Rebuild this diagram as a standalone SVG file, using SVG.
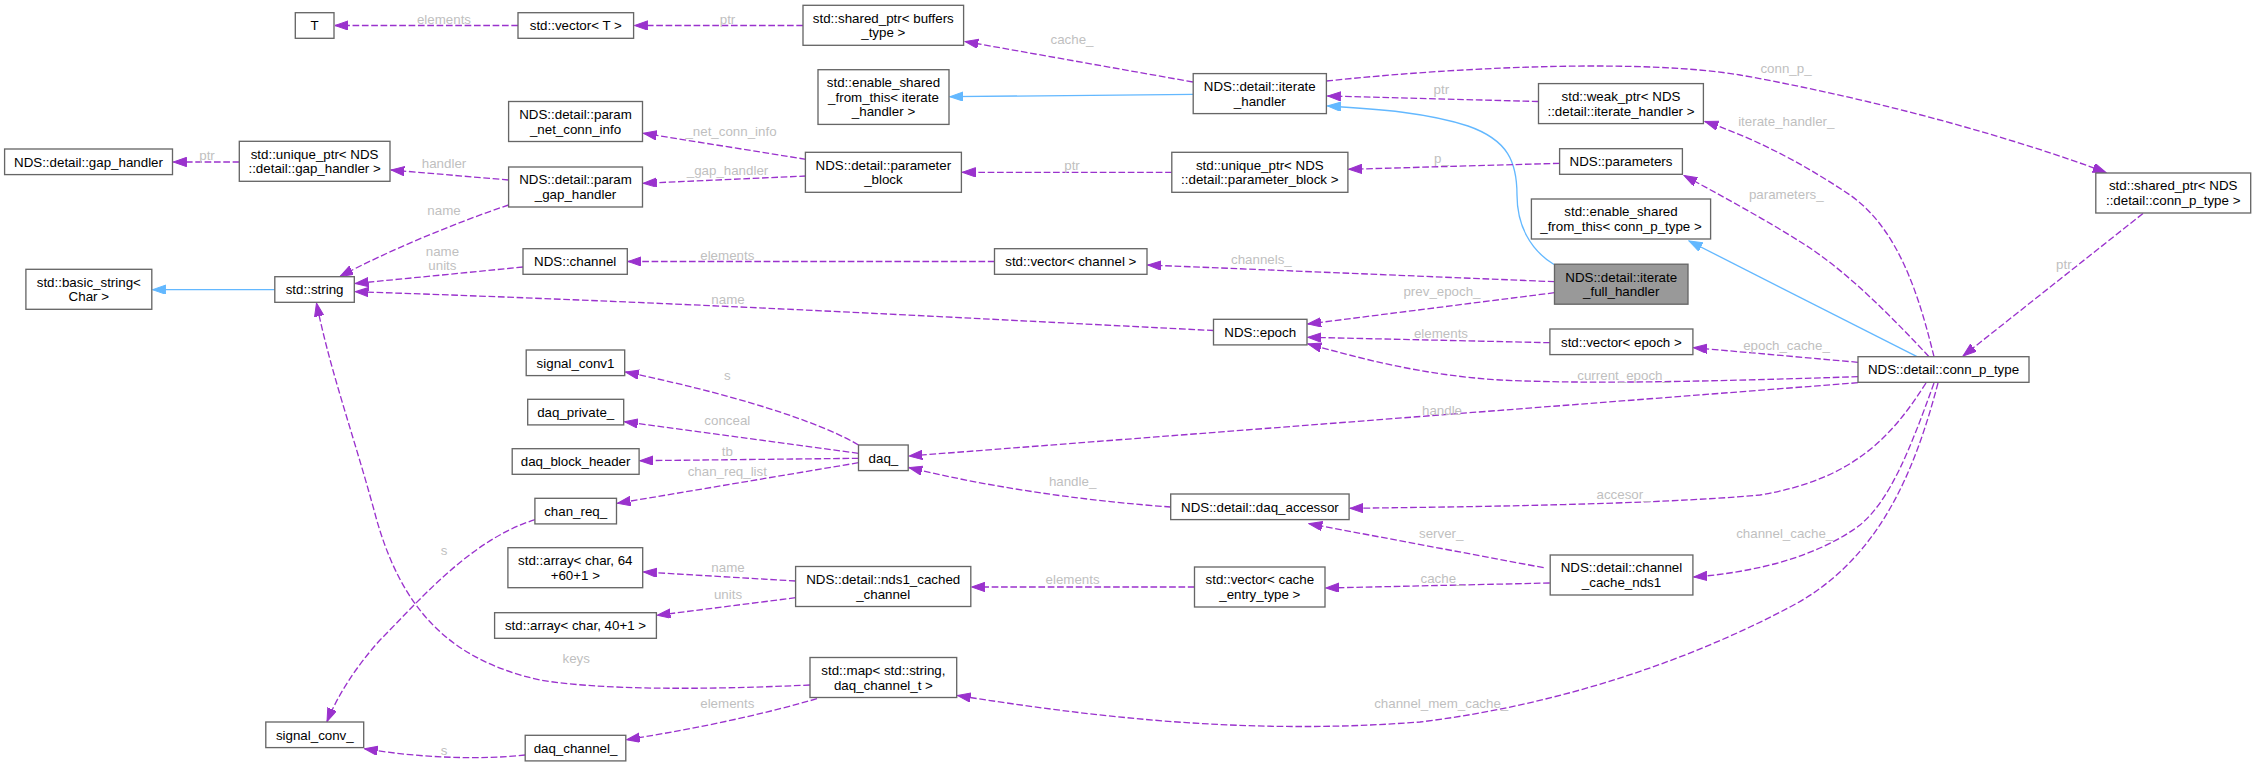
<svg xmlns="http://www.w3.org/2000/svg" width="2256" height="767" viewBox="0 0 2256 767">
<style>
.node rect{fill:#ffffff;stroke:#666666;stroke-width:1.33}
.node.hl rect{fill:#999999}
.node text{font-family:"Liberation Sans",Arial,Helvetica,sans-serif;font-size:13.33px;text-anchor:middle;fill:#000000}
.e{fill:none;stroke:#9a32cd;stroke-width:1.33;stroke-dasharray:6.67,2.67;marker-end:url(#ap)}
.i{fill:none;stroke:#63b8ff;stroke-width:1.33;marker-end:url(#ab)}
.lbl{font-family:"Liberation Sans",Arial,Helvetica,sans-serif;font-size:13.33px;text-anchor:middle;fill:#bfbfbf}
</style>
<defs>
<marker id="ap" markerUnits="userSpaceOnUse" markerWidth="14" markerHeight="10" refX="13.3" refY="4.67" orient="auto"><path d="M0,0 L13.3,4.67 L0,9.33 z" fill="#9a32cd" stroke="#9a32cd" stroke-width="1"/></marker>
<marker id="ab" markerUnits="userSpaceOnUse" markerWidth="14" markerHeight="10" refX="13.3" refY="4.67" orient="auto"><path d="M0,0 L13.3,4.67 L0,9.33 z" fill="#63b8ff" stroke="#63b8ff" stroke-width="1"/></marker>
</defs>
<rect width="2256" height="767" fill="#ffffff"/>
<g id="connectors">
<path class="e" d="M518,25.5 L335,25.5"/>
<text class="lbl" x="444" y="23.5">elements</text>
<path class="e" d="M803,25.5 L634.5,25.5"/>
<text class="lbl" x="727.5" y="23.5">ptr</text>
<path class="e" d="M1193,82 L965,41.5"/>
<text class="lbl" x="1072" y="43.5">cache_</text>
<path class="i" d="M1193,94.3 L950,96.7"/>
<path class="e" d="M1326.4,81 C1480,65 1650,60 1740,75 C1880,100 2020,140 2106,172.5"/>
<text class="lbl" x="1786" y="72.5">conn_p_</text>
<path class="e" d="M1538.5,101.5 L1327.5,96"/>
<text class="lbl" x="1441.4" y="93.8">ptr</text>
<path class="i" d="M1554,264.5 C1530,250 1517,225 1517,195 C1517,162 1508,140 1468,126 C1428,113 1380,109 1327.5,106"/>
<path class="e" d="M806,159.3 L643.4,133.3"/>
<text class="lbl" x="731" y="136.2">_net_conn_info</text>
<path class="e" d="M806,176 L643.4,183.3"/>
<text class="lbl" x="727.5" y="175.2">_gap_handler</text>
<path class="e" d="M508.6,180 L391,170"/>
<text class="lbl" x="444" y="168.2">handler</text>
<path class="e" d="M239.3,162 L173.3,162"/>
<text class="lbl" x="207" y="159.5">ptr</text>
<path class="e" d="M1171.8,172.3 L962.2,172.3"/>
<text class="lbl" x="1072" y="170.2">ptr</text>
<path class="e" d="M1559.6,163.3 L1348.7,169.3"/>
<text class="lbl" x="1441.4" y="163.2">p_</text>
<path class="e" d="M508.6,205 C455,223 385,252 340,276.5"/>
<text class="lbl" x="444" y="214.5">name</text>
<path class="e" d="M523,267 L355.2,283.5"/>
<text class="lbl" x="442.4" y="256.2">name</text>
<text class="lbl" x="442.4" y="270.2">units</text>
<path class="i" d="M274.8,289.7 L152.6,289.7"/>
<path class="e" d="M1213.5,330.5 C1000,320 700,303 355.2,291.7"/>
<text class="lbl" x="728" y="303.5">name</text>
<path class="e" d="M994.5,261.5 L628.1,261.5"/>
<text class="lbl" x="727.3" y="259.5">elements</text>
<path class="e" d="M1554.5,281.7 L1147.8,265"/>
<text class="lbl" x="1261.4" y="263.5">channels_</text>
<path class="e" d="M1554.5,292.7 L1307.8,324"/>
<text class="lbl" x="1442" y="296.2">prev_epoch_</text>
<path class="e" d="M1549.9,342.7 L1307.8,337.3"/>
<text class="lbl" x="1441" y="337.8">elements</text>
<path class="e" d="M1858,376.7 C1750,380 1600,385 1500,380 C1420,375 1360,358 1308,344"/>
<text class="lbl" x="1623.6" y="379.5">current_epoch_</text>
<path class="e" d="M1858,362.3 L1693.7,347.7"/>
<text class="lbl" x="1786.5" y="350.2">epoch_cache_</text>
<path class="i" d="M1917,356.7 L1689,241"/>
<path class="e" d="M1934,356.7 C1920,300 1900,230 1850,195 C1810,168 1760,140 1705,121.5"/>
<text class="lbl" x="1786.3" y="126.2">iterate_handler_</text>
<path class="e" d="M1929,356.7 C1890,315 1850,275 1810,248 C1770,222 1720,195 1684,175.5"/>
<text class="lbl" x="1786.3" y="198.5">parameters_</text>
<path class="e" d="M2143,213.5 L1963,356"/>
<text class="lbl" x="2063.8" y="268.5">ptr</text>
<path class="e" d="M1858,382.7 L909,456"/>
<text class="lbl" x="1442" y="414.5">handle</text>
<path class="e" d="M1926,383 C1890,440 1850,480 1760,495 C1650,505 1450,507 1350,508.3"/>
<text class="lbl" x="1623.6" y="498.5">accesor_</text>
<path class="e" d="M1934,383 C1910,450 1890,500 1860,525 C1820,555 1760,572 1693.7,577"/>
<text class="lbl" x="1784.7" y="538.2">channel_cache_</text>
<path class="e" d="M1938,383 C1915,470 1880,560 1790,607 C1690,660 1560,705 1420,722 C1250,735 1100,718 957.5,695.5"/>
<text class="lbl" x="1441.2" y="708.2">channel_mem_cache_</text>
<path class="e" d="M1170.7,507 C1100,502 1000,490 909,467.5"/>
<text class="lbl" x="1072.6" y="486.2">handle_</text>
<path class="e" d="M858.5,445 C830,428 760,400 625.5,372"/>
<text class="lbl" x="727.3" y="379.5">s</text>
<path class="e" d="M858.5,453.3 L624.5,421.7"/>
<text class="lbl" x="727.3" y="424.5">conceal</text>
<path class="e" d="M858.5,458.3 L639.9,460.7"/>
<text class="lbl" x="727.3" y="456.2">tb</text>
<path class="e" d="M858.5,462.7 L617.3,503.3"/>
<text class="lbl" x="727.3" y="476.2">chan_req_list</text>
<path class="e" d="M1543.7,567.7 L1309,523.7"/>
<text class="lbl" x="1441.2" y="538.2">server_</text>
<path class="e" d="M1549.8,583 L1325.8,588"/>
<text class="lbl" x="1442" y="583.2">cache_</text>
<path class="e" d="M1194.5,587 L971.6,587"/>
<text class="lbl" x="1072.6" y="584.2">elements</text>
<path class="e" d="M795.6,581 L643.5,572"/>
<text class="lbl" x="728" y="571.5">name</text>
<path class="e" d="M795.6,597.7 L657.2,615.3"/>
<text class="lbl" x="728" y="599.2">units</text>
<path class="e" d="M810,685 C700,690 600,690 540,680 C450,660 400,610 374,510 C352,430 330,370 316.5,303"/>
<text class="lbl" x="576.2" y="663.2">keys</text>
<path class="e" d="M535,519.7 C470,540 420,600 380,640 C355,668 338,695 327,721.5"/>
<text class="lbl" x="444.2" y="554.8">s</text>
<path class="e" d="M817,698.7 C760,715 700,728 626.6,739.7"/>
<text class="lbl" x="727.3" y="708.2">elements</text>
<path class="e" d="M525.2,755 C480,760 420,758 364.5,748.7"/>
<text class="lbl" x="444.2" y="754.8">s</text>
</g>
<g id="n_T" class="node"><rect x="295.3" y="12.7" width="38.7" height="25.6"/><text x="314.6" y="30.3">T</text></g>
<g id="n_vecT" class="node"><rect x="518" y="12.7" width="115.6" height="25.6"/><text x="575.8" y="30.3">std::vector&lt; T &gt;</text></g>
<g id="n_spbuf" class="node"><rect x="803" y="5.3" width="160.6" height="40"/><text x="883.3" y="22.6">std::shared_ptr&lt; buffers</text><text x="883.3" y="37.3">_type &gt;</text></g>
<g id="n_esftih" class="node"><rect x="818" y="69.7" width="131" height="54.7"/><text x="883.5" y="87.1">std::enable_shared</text><text x="883.5" y="101.7">_from_this&lt; iterate</text><text x="883.5" y="116.4">_handler &gt;</text></g>
<g id="n_ih" class="node"><rect x="1193.2" y="73.6" width="133.2" height="40"/><text x="1259.8" y="90.9">NDS::detail::iterate</text><text x="1259.8" y="105.6">_handler</text></g>
<g id="n_weak" class="node"><rect x="1538.5" y="83.6" width="164.9" height="40"/><text x="1621" y="100.9">std::weak_ptr&lt; NDS</text><text x="1621" y="115.6">::detail::iterate_handler &gt;</text></g>
<g id="n_spconn" class="node"><rect x="2095.8" y="173" width="154.9" height="40"/><text x="2173.2" y="190.3">std::shared_ptr&lt; NDS</text><text x="2173.2" y="205">::detail::conn_p_type &gt;</text></g>
<g id="n_gap" class="node"><rect x="4.6" y="149" width="167.9" height="25.6"/><text x="88.5" y="166.6">NDS::detail::gap_handler</text></g>
<g id="n_upgap" class="node"><rect x="239.3" y="141.3" width="150.7" height="40"/><text x="314.6" y="158.6">std::unique_ptr&lt; NDS</text><text x="314.6" y="173.3">::detail::gap_handler &gt;</text></g>
<g id="n_pnci" class="node"><rect x="508.6" y="101.5" width="133.9" height="40"/><text x="575.5" y="118.8">NDS::detail::param</text><text x="575.5" y="133.5">_net_conn_info</text></g>
<g id="n_pgh" class="node"><rect x="508.6" y="167" width="133.9" height="40"/><text x="575.5" y="184.3">NDS::detail::param</text><text x="575.5" y="199">_gap_handler</text></g>
<g id="n_pb" class="node"><rect x="805.4" y="152.3" width="156" height="40"/><text x="883.4" y="169.6">NDS::detail::parameter</text><text x="883.4" y="184.3">_block</text></g>
<g id="n_uppb" class="node"><rect x="1171.8" y="152.3" width="176.1" height="40"/><text x="1259.8" y="169.6">std::unique_ptr&lt; NDS</text><text x="1259.8" y="184.3">::detail::parameter_block &gt;</text></g>
<g id="n_params" class="node"><rect x="1559.6" y="148.7" width="122.8" height="25.6"/><text x="1621" y="166.3">NDS::parameters</text></g>
<g id="n_esftconn" class="node"><rect x="1531.4" y="199" width="179.2" height="40"/><text x="1621" y="216.3">std::enable_shared</text><text x="1621" y="231">_from_this&lt; conn_p_type &gt;</text></g>
<g id="n_bstr" class="node"><rect x="25.9" y="269.3" width="125.9" height="40"/><text x="88.8" y="286.6">std::basic_string&lt;</text><text x="88.8" y="301.3">Char &gt;</text></g>
<g id="n_str" class="node"><rect x="274.8" y="276.7" width="79.5" height="25.6"/><text x="314.6" y="294.3">std::string</text></g>
<g id="n_chan" class="node"><rect x="523" y="248.7" width="104.3" height="25.6"/><text x="575.2" y="266.3">NDS::channel</text></g>
<g id="n_vecchan" class="node"><rect x="994.5" y="248.7" width="152.5" height="25.6"/><text x="1070.8" y="266.3">std::vector&lt; channel &gt;</text></g>
<g id="n_ifh" class="node hl"><rect x="1554.5" y="264.2" width="133.5" height="40"/><text x="1621.2" y="281.5">NDS::detail::iterate</text><text x="1621.2" y="296.2">_full_handler</text></g>
<g id="n_epoch" class="node"><rect x="1213.5" y="319.3" width="93.5" height="25.6"/><text x="1260.2" y="336.9">NDS::epoch</text></g>
<g id="n_vecepoch" class="node"><rect x="1549.9" y="329" width="143" height="25.6"/><text x="1621.4" y="346.6">std::vector&lt; epoch &gt;</text></g>
<g id="n_conn" class="node"><rect x="1858" y="356.7" width="171" height="25.6"/><text x="1943.5" y="374.3">NDS::detail::conn_p_type</text></g>
<g id="n_sc1" class="node"><rect x="526.2" y="350" width="98.5" height="25.6"/><text x="575.5" y="367.6">signal_conv1</text></g>
<g id="n_dpriv" class="node"><rect x="527.7" y="399.3" width="96" height="25.6"/><text x="575.7" y="416.9">daq_private_</text></g>
<g id="n_dbh" class="node"><rect x="512.2" y="448.7" width="126.9" height="25.6"/><text x="575.6" y="466.3">daq_block_header</text></g>
<g id="n_daq" class="node"><rect x="858.5" y="445" width="49.7" height="25.6"/><text x="883.4" y="462.6">daq_</text></g>
<g id="n_creq" class="node"><rect x="534.9" y="498.3" width="81.6" height="25.6"/><text x="575.7" y="515.9">chan_req_</text></g>
<g id="n_dacc" class="node"><rect x="1170.7" y="494" width="178.4" height="25.6"/><text x="1259.9" y="511.6">NDS::detail::daq_accessor</text></g>
<g id="n_arr64" class="node"><rect x="507.9" y="547.7" width="134.8" height="40"/><text x="575.3" y="565">std::array&lt; char, 64</text><text x="575.3" y="579.7">+60+1 &gt;</text></g>
<g id="n_nds1cc" class="node"><rect x="795.6" y="566.5" width="175.2" height="40"/><text x="883.2" y="583.8">NDS::detail::nds1_cached</text><text x="883.2" y="598.5">_channel</text></g>
<g id="n_veccache" class="node"><rect x="1194.5" y="567" width="130.5" height="40"/><text x="1259.8" y="584.3">std::vector&lt; cache</text><text x="1259.8" y="599">_entry_type &gt;</text></g>
<g id="n_ccnds1" class="node"><rect x="1550.2" y="555" width="142.7" height="40"/><text x="1621.5" y="572.3">NDS::detail::channel</text><text x="1621.5" y="587">_cache_nds1</text></g>
<g id="n_arr40" class="node"><rect x="494.6" y="612.7" width="161.8" height="25.6"/><text x="575.5" y="630.3">std::array&lt; char, 40+1 &gt;</text></g>
<g id="n_map" class="node"><rect x="810" y="657.5" width="146.7" height="40"/><text x="883.4" y="674.8">std::map&lt; std::string,</text><text x="883.4" y="689.5">daq_channel_t &gt;</text></g>
<g id="n_sconv" class="node"><rect x="265.8" y="722" width="97.9" height="25.6"/><text x="314.8" y="739.6">signal_conv_</text></g>
<g id="n_dchan" class="node"><rect x="525.2" y="735.3" width="100.6" height="25.6"/><text x="575.5" y="752.9">daq_channel_</text></g>
</svg>
